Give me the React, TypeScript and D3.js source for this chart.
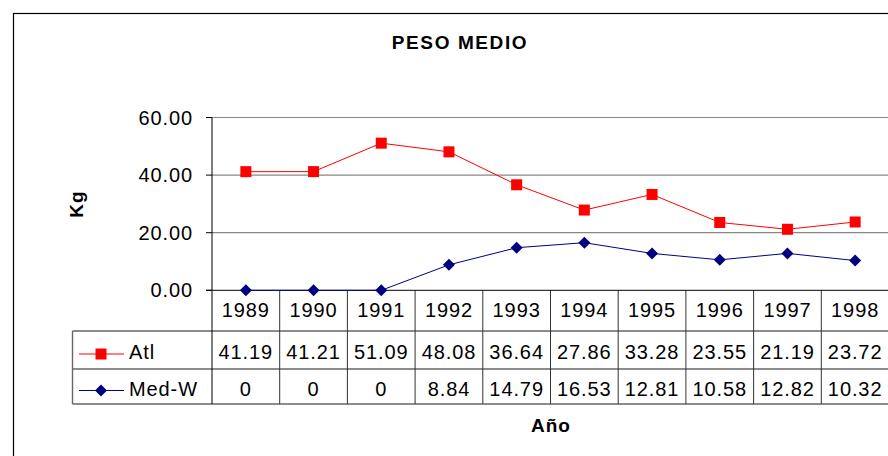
import React from "react";
import * as d3 from "d3";

const years = ["1989", "1990", "1991", "1992", "1993", "1994", "1995", "1996", "1997", "1998"];
const atl = [41.19, 41.21, 51.09, 48.08, 36.64, 27.86, 33.28, 23.55, 21.19, 23.72];
const medW = [0, 0, 0, 8.84, 14.79, 16.53, 12.81, 10.58, 12.82, 10.32];
const yTicks = [0, 20, 40, 60];

const FONT = "'Liberation Sans', Arial, sans-serif";

export default function App() {
  const width = 888;
  const height = 456;

  const x = d3.scaleBand().domain(years).range([212, 889]).padding(0);
  const y = d3.scaleLinear().domain([0, 60]).range([290.3, 117.5]);
  const cx = (yr: string) => (x(yr) as number) + x.bandwidth() / 2;

  const line = d3
    .line<number>()
    .x((_, i) => cx(years[i]))
    .y((d) => y(d));

  // table rows: top, bottom, text baseline
  const yearRow = { top: 290.3, bottom: 331, base: 317 };
  const atlRow = { top: 331, bottom: 369, base: 359 };
  const medRow = { top: 369, bottom: 404, base: 396 };
  const tableLeft = 72.5;

  const diamond = (px: number, py: number, r: number) =>
    `M${px},${py - r}L${px + r},${py}L${px},${py + r}L${px - r},${py}Z`;

  const numText = {
    fontFamily: FONT,
    fontSize: 20,
    letterSpacing: 0.9,
    fill: "#000",
  } as const;

  return (
    <svg
      width={width}
      height={height}
      style={{ position: "fixed", left: 0, top: 0, background: "#fff" }}
    >
      <rect x={0} y={0} width={width} height={height} fill="#fff" />
      {/* outer frame */}
      <rect x={13.5} y={13.5} width={900} height={500} fill="none" stroke="#000" strokeWidth={1.2} />

      <text
        x={460}
        y={49}
        textAnchor="middle"
        style={{ fontFamily: FONT, fontSize: 19, fontWeight: "bold", letterSpacing: 1.6 }}
      >
        PESO MEDIO
      </text>

      {/* gridlines */}
      {yTicks.filter((t) => t > 0).map((t) => (
        <line key={t} x1={212} x2={889} y1={y(t)} y2={y(t)} stroke="#888" strokeWidth={1.2} />
      ))}

      {/* y ticks and labels */}
      {yTicks.map((t) => (
        <g key={"t" + t}>
          <line x1={206} x2={212} y1={y(t)} y2={y(t)} stroke="#000" />
          <text x={193} y={y(t) + 7} textAnchor="end" style={numText}>
            {d3.format(".2f")(t)}
          </text>
        </g>
      ))}

      <text
        transform={`translate(83,204) rotate(-90)`}
        textAnchor="middle"
        style={{ fontFamily: FONT, fontSize: 19, fontWeight: "bold", letterSpacing: 1 }}
      >
        Kg
      </text>

      {/* table horizontal lines */}
      {[atlRow.top, medRow.top, medRow.bottom].map((ly) => (
        <line key={ly} x1={tableLeft} x2={889} y1={ly} y2={ly} stroke="#666" strokeWidth={1.4} />
      ))}
      <line x1={tableLeft} x2={tableLeft} y1={atlRow.top} y2={medRow.bottom} stroke="#666" strokeWidth={1.4} />

      {/* column separators */}
      {years.slice(1).map((yr) => (
        <line
          key={"c" + yr}
          x1={x(yr) as number}
          x2={x(yr) as number}
          y1={yearRow.top}
          y2={medRow.bottom}
          stroke="#333"
        />
      ))}

      {/* y axis & zero line */}
      <line x1={212} x2={212} y1={y(60)} y2={medRow.bottom} stroke="#000" />
      <line x1={206} x2={889} y1={y(0)} y2={y(0)} stroke="#000" />

      {/* table text */}
      {years.map((yr, i) => (
        <g key={"v" + yr}>
          <text x={cx(yr)} y={yearRow.base} textAnchor="middle" style={numText}>
            {yr}
          </text>
          <text x={cx(yr)} y={atlRow.base} textAnchor="middle" style={numText}>
            {atl[i]}
          </text>
          <text x={cx(yr)} y={medRow.base} textAnchor="middle" style={numText}>
            {medW[i]}
          </text>
        </g>
      ))}

      {/* legend keys */}
      <line x1={79} x2={124} y1={354} y2={354} stroke="#FF0000" />
      <rect x={95.5} y={348.5} width={11} height={11} fill="#FF0000" />
      <text x={129} y={atlRow.base} style={numText}>
        Atl
      </text>
      <line x1={79} x2={124} y1={390.5} y2={390.5} stroke="#000080" />
      <path d={diamond(101, 390.5, 6)} fill="#000080" />
      <text x={129} y={medRow.base} style={numText}>
        Med-W
      </text>

      {/* series */}
      <path d={line(medW) ?? ""} fill="none" stroke="#000080" strokeWidth={1} />
      {medW.map((v, i) => (
        <path key={"d" + i} d={diamond(cx(years[i]), y(v), 6)} fill="#000080" />
      ))}
      <path d={line(atl) ?? ""} fill="none" stroke="#FF0000" strokeWidth={1} />
      {atl.map((v, i) => (
        <rect key={"s" + i} x={cx(years[i]) - 5.5} y={y(v) - 5.5} width={11} height={11} fill="#FF0000" />
      ))}

      <text
        x={551}
        y={432}
        textAnchor="middle"
        style={{ fontFamily: FONT, fontSize: 19, fontWeight: "bold", letterSpacing: 1 }}
      >
        Año
      </text>
    </svg>
  );
}
